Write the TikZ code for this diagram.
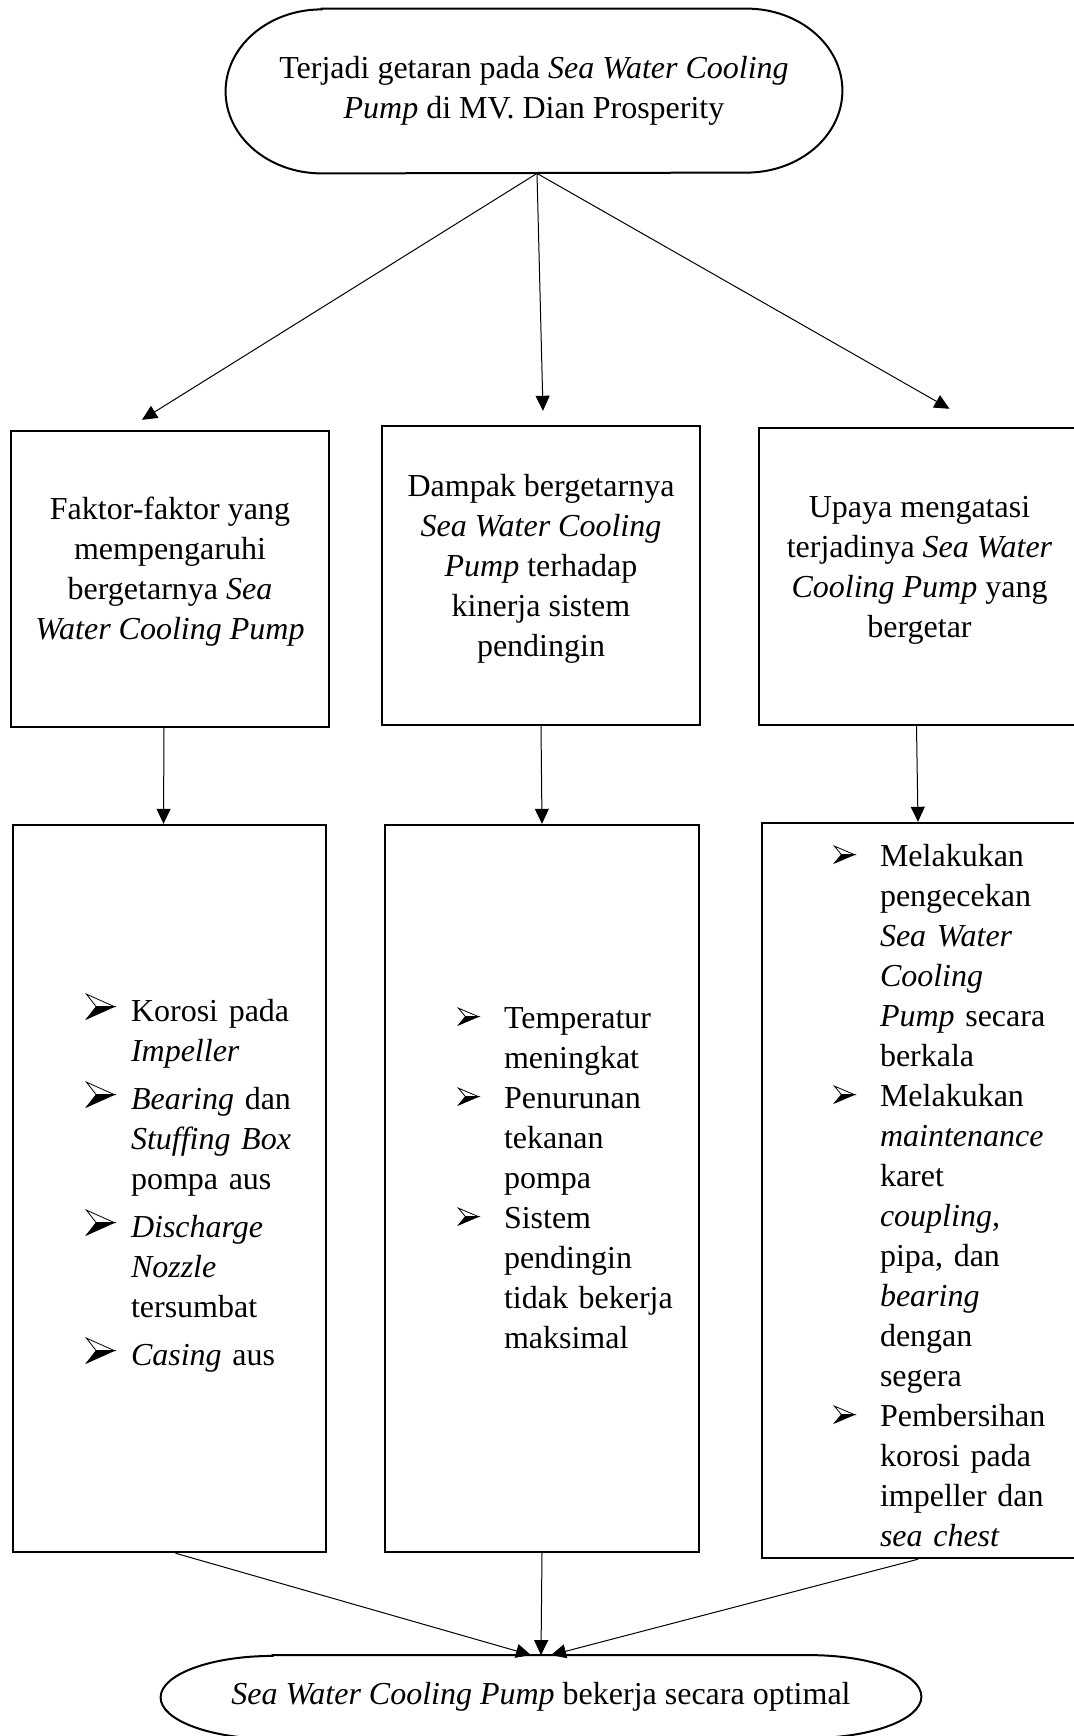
\documentclass[tikz,border=0pt]{standalone}
\usepackage{fontspec}
\setmainfont{Liberation Serif}
\usetikzlibrary{arrows.meta}
\newsavebox{\bulbox}
\newsavebox{\bigbulbox}
\newcommand{\makebul}[3]{\sbox{#1}{\begin{pgfpicture}
	\pgfsetlinewidth{0.4pt}\pgfsetmiterjoin
	\pgfpathmoveto{\pgfpoint{0pt}{#3}}\pgfpathlineto{\pgfpoint{#2}{0.5*#3}}
	\pgfpathlineto{\pgfpoint{0.35*#2}{0.5*#3}}\pgfpathclose
	\pgfsetfillcolor{white}\pgfusepath{fill,stroke}
	\pgfpathmoveto{\pgfpoint{0pt}{0pt}}\pgfpathlineto{\pgfpoint{#2}{0.5*#3}}
	\pgfpathlineto{\pgfpoint{0.35*#2}{0.5*#3}}\pgfpathclose
	\pgfsetfillcolor{black}\pgfusepath{fill,stroke}
	\end{pgfpicture}}}
\newcommand{\bul}{\raisebox{1.5pt}{\usebox{\bulbox}}}
\newcommand{\bigbul}{\raisebox{1pt}{\usebox{\bigbulbox}}}

\begin{document}
\makebul{\bulbox}{10pt}{8.5pt}
\makebul{\bigbulbox}{14pt}{12.5pt}
\begin{tikzpicture}[x=0.5pt, y=-0.5pt,
		font=\fontsize{16}{20}\selectfont,
		box/.style={draw, line width=1.2pt, inner sep=0pt},
		txt/.style={inner sep=0pt, align=center},
		items/.style={inner sep=0pt, align=left},
		arr/.style={-{Triangle[length=7.5pt, width=7pt]}, line width=0.5pt}]
		\clip (0, 0) rectangle (1074, 1736);

		\node[minimum width=308pt, minimum height=82pt, align=center] (top) at (534, 91)
			{Terjadi getaran pada \textit{Sea Water Cooling}\\ \textit{Pump} di MV. Dian Prosperity};
		\draw[line width=1pt] ([xshift=48pt]top.north west) -- ([xshift=-48pt]top.north east)
			arc[start angle=90, end angle=-90, x radius=48pt, y radius=41pt]
			-- ([xshift=48pt]top.south west)
			arc[start angle=270, end angle=90, x radius=48pt, y radius=41pt] -- cycle;

		\node[box, minimum width=159pt, minimum height=148pt] (b1) at (170, 579) {};
		\node[box, minimum width=159pt, minimum height=149.5pt] (b2) at (541, 575.5) {};
		\node[box, minimum width=160.5pt, minimum height=148.5pt] (b3) at (919.5, 576.5) {};
		\node[txt] (t1) at ([yshift=3.5pt]b1.center)
			{Faktor-faktor yang\\ mempengaruhi\\ bergetarnya \textit{Sea}\\ \textit{Water Cooling Pump}};
		\node[txt] (t2) at ([yshift=3.5pt]b2.center)
			{Dampak bergetarnya\\ \textit{Sea Water Cooling}\\ \textit{Pump} terhadap\\ kinerja sistem\\ pendingin};
		\node[txt] (t3) at ([yshift=3pt]b3.center)
			{Upaya mengatasi\\ terjadinya \textit{Sea Water}\\ \textit{Cooling Pump} yang\\ bergetar};

		\node[box, minimum width=156.5pt, minimum height=363.5pt] (l1) at (169.5, 1188.5) {};
		\node[box, minimum width=157pt, minimum height=363.5pt] (l2) at (542, 1188.5) {};
		\node[box, minimum width=159pt, minimum height=367.5pt] (l3) at (921, 1190.5) {};

		\node[items, text width=156.5pt] (s1) at ([yshift=1.5pt]l1.center)
			{\hspace*{36.5pt}\begin{tabular}{@{}p{22.5pt}@{}l@{}}
				\bigbul & Korosi pada\\
				& \textit{Impeller}\\[4pt]
				\bigbul & \textit{Bearing} dan\\
				& \textit{Stuffing Box}\\
				& pompa aus\\[4pt]
				\bigbul & \textit{Discharge}\\
				& \textit{Nozzle}\\
				& tersumbat\\[4pt]
				\bigbul & \textit{Casing} aus
			\end{tabular}};
		\node[items, text width=157pt] (s2) at ([yshift=4pt]l2.center)
			{\hspace*{36.5pt}\begin{tabular}{@{}p{23pt}@{}l@{}}
				\bul & Temperatur\\
				& meningkat\\
				\bul & Penurunan\\
				& tekanan\\
				& pompa\\
				\bul & Sistem\\
				& pendingin\\
				& tidak bekerja\\
				& maksimal
			\end{tabular}};
		\node[items, text width=159pt] (s3) at ([yshift=-4pt]l3.center)
			{\hspace*{36pt}\begin{tabular}{@{}p{23pt}@{}l@{}}
				\bul & Melakukan\\
				& pengecekan\\
				& \textit{Sea Water}\\
				& \textit{Cooling}\\
				& \textit{Pump} secara\\
				& berkala\\
				\bul & Melakukan\\
				& \textit{maintenance}\\
				& karet\\
				& \textit{coupling,}\\
				& pipa, dan\\
				& \textit{bearing}\\
				& dengan\\
				& segera\\
				\bul & Pembersihan\\
				& korosi pada\\
				& impeller dan\\
				& \textit{sea chest}
			\end{tabular}};

		\node[minimum width=380pt, minimum height=41.5pt] (goal) at (541, 1697)
			{\textit{Sea Water Cooling Pump} bekerja secara optimal};
		\draw[line width=1pt] ([xshift=56pt]goal.north west) -- ([xshift=-56pt]goal.north east)
			arc[start angle=90, end angle=-90, x radius=56pt, y radius=20.75pt]
			-- ([xshift=56pt]goal.south west)
			arc[start angle=270, end angle=90, x radius=56pt, y radius=20.75pt] -- cycle;

		\draw[arr] ([xshift=1.5pt]top.south) -- ([xshift=-14pt, yshift=5pt]b1.north);
		\draw[arr] ([xshift=1.5pt]top.south) -- ([xshift=1pt, yshift=7pt]b2.north);
		\draw[arr] ([xshift=1.5pt]top.south) -- ([xshift=15pt, yshift=9pt]b3.north);

		\draw[arr] ([xshift=-3pt]b1.south) -- ([xshift=-3pt]l1.north);
		\draw[arr] (b2.south) -- (l2.north);
		\draw[arr] ([xshift=-1.5pt]b3.south) -- ([xshift=-1.5pt]l3.north);

		\draw[arr] ([xshift=3pt]l1.south) -- ([xshift=-5pt]goal.north);
		\draw[arr] (l2.south) -- (goal.north);
		\draw[arr] ([xshift=-1.5pt]l3.south) -- ([xshift=5pt]goal.north);
	\end{tikzpicture}
\end{document}
